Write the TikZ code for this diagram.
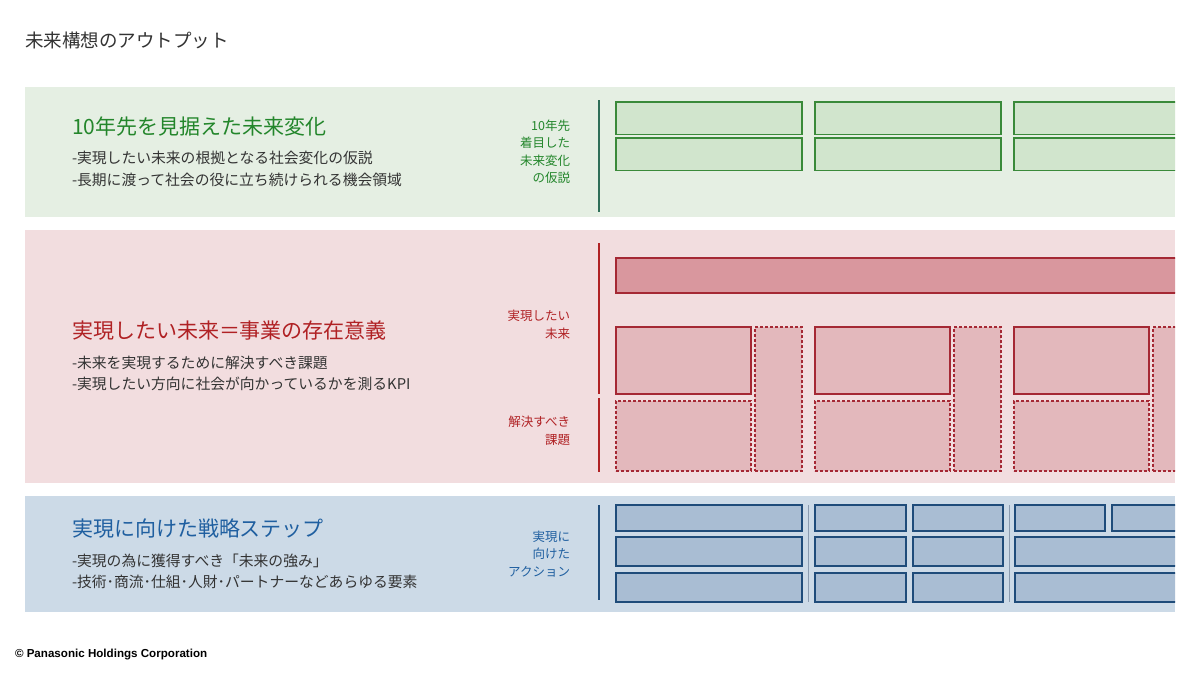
\documentclass[tikz,border=0pt]{standalone}
\usepackage{fontspec}
\setmainfont{Noto Sans CJK JP}
\newfontfamily\latinfont{Liberation Sans}
\usetikzlibrary{positioning}
\definecolor{ftText}{HTML}{333333}
\definecolor{ftGreen}{HTML}{23862B}
\definecolor{ftGreenP}{HTML}{E5EFE3}
\definecolor{ftGreenB}{HTML}{D1E5CD}
\definecolor{ftGreenD}{HTML}{3A8A3A}
\definecolor{ftGreenV}{HTML}{2F6E58}
\definecolor{ftRed}{HTML}{B02124}
\definecolor{ftRedP}{HTML}{F2DDDF}
\definecolor{ftRedBar}{HTML}{D9979E}
\definecolor{ftRedB}{HTML}{E3B8BC}
\definecolor{ftRedD}{HTML}{A52834}
\definecolor{ftBlue}{HTML}{1F5FA0}
\definecolor{ftBlueP}{HTML}{CCDAE7}
\definecolor{ftBlueB}{HTML}{A9BDD3}
\definecolor{ftBlueD}{HTML}{1F4C7A}
\definecolor{ftSep}{HTML}{8A9BB0}

\begin{document}
\begin{tikzpicture}[
  x=1pt, y=-1pt,
  every node/.style={inner sep=0pt, outer sep=0pt},
  headline/.style={anchor=west, font=\fontsize{21}{25}\selectfont},
  bodyline/.style={anchor=west, text=ftText, font=\fontsize{14.8}{18}\selectfont},
  tag/.style={anchor=east, align=right, font=\fontsize{12.5}{17.5}\selectfont},
  gbox/.style={draw=ftGreenD, fill=ftGreenB, line width=1.3pt,
    minimum width=186pt, minimum height=32.5pt, anchor=north west},
  rbox/.style={draw=ftRedD, fill=ftRedB, line width=1.3pt,
    minimum width=135pt, minimum height=67pt, anchor=north west},
  rdash/.style={draw=ftRedD, fill=ftRedB, line width=1.3pt,
    dash pattern=on 3pt off 2pt, minimum width=135pt, minimum height=70pt},
  rkpi/.style={draw=ftRedD, fill=ftRedB, line width=1.3pt,
    dash pattern=on 3pt off 2pt, minimum width=47pt, minimum height=144pt},
  bstep/.style={draw=ftBlueD, fill=ftBlueB, line width=1.3pt,
    minimum height=29pt, anchor=north west}
]
 \useasboundingbox (0,0) rectangle (1200,675);
 \fill[white] (0,0) rectangle (1200,675);

 % page title and footer
 \node[anchor=west, text=ftText, font=\fontsize{18.5}{22}\selectfont] (title) at (25,40) {未来構想のアウトプット};
 \node[anchor=west, text=black, font=\latinfont\bfseries\fontsize{11.6}{13}\selectfont] (copy) at (15,655) {© Panasonic Holdings Corporation};

 % band backgrounds
 \fill[ftGreenP] (25,87) rectangle (1175,217);
 \fill[ftRedP] (25,230) rectangle (1175,483);
 \fill[ftBlueP] (25,496) rectangle (1175,612);

 % Band 1 -- future change
 \node[headline, text=ftGreen] (gh) at (72,127) {10年先を見据えた未来変化};
 \node[bodyline] (gl1) at (72,158) {-実現したい未来の根拠となる社会変化の仮説};
 \node[bodyline] (gl2) at (72,180) {-長期に渡って社会の役に立ち続けられる機会領域};
 \node[tag, text=ftGreen] (gt) at (570,152) {10年先\\着目した\\未来変化\\の仮説};
 \draw[ftGreenV, line width=1.3pt] (599,100) -- (599,212);

 % Band 2 -- future to realise
 \node[headline, text=ftRed] (rh) at (72,331) {実現したい未来＝事業の存在意義};
 \node[bodyline] (rl1) at (72,363) {-未来を実現するために解決すべき課題};
 \node[bodyline] (rl2) at (72,384) {-実現したい方向に社会が向かっているかを測るKPI};
 \node[tag, text=ftRed] (rt1) at (570,324.5) {実現したい\\未来};
 \node[tag, text=ftRed] (rt2) at (570,431) {解決すべき\\課題};
 \draw[ftRed, line width=1.3pt] (599,243) -- (599,394);
 \draw[ftRed, line width=1.3pt] (599,398) -- (599,472);

 % Band 3 -- strategy steps
 \node[headline, text=ftBlue] (bh) at (72,529) {実現に向けた戦略ステップ};
 \node[bodyline] (bl1) at (72,561) {-実現の為に獲得すべき「未来の強み」};
 \node[bodyline] (bl2) at (72,582) {-技術･商流･仕組･人財･パートナーなどあらゆる要素};
 \node[tag, text=ftBlue] (bt) at (570,554) {実現に\\向けた\\アクション};
 \draw[ftBlueD, line width=1.3pt] (599,505) -- (599,600);

 \begin{scope}
 \clip (25,80) rectangle (1175,620);

 % Band 1 boxes -- two rows
 \node[gbox] (g11) at (616,102) {};
 \node[gbox, right=13pt of g11] (g12) {};
 \node[gbox, right=13pt of g12] (g13) {};
 \node[gbox] (g21) at (616,138) {};
 \node[gbox, right=13pt of g21] (g22) {};
 \node[gbox, right=13pt of g22] (g23) {};

 % Band 2 boxes -- wide bar, then groups of vision / issue / KPI
 \node[rbox, fill=ftRedBar, minimum width=620pt, minimum height=35pt] (rbar) at (616,258) {};
 \node[rbox] (r1) at (616,327) {};
 \node[rdash, below=7pt of r1] (i1) {};
 \node[rkpi, right=4pt of r1.north east, anchor=north west] (k1) {};
 \node[rbox, right=13pt of k1.north east, anchor=north west] (r2) {};
 \node[rdash, below=7pt of r2] (i2) {};
 \node[rkpi, right=4pt of r2.north east, anchor=north west] (k2) {};
 \node[rbox, right=13pt of k2.north east, anchor=north west] (r3) {};
 \node[rdash, below=7pt of r3] (i3) {};
 \node[rkpi, right=4pt of r3.north east, anchor=north west] (k3) {};

 % Band 3 boxes -- three rows, three groups
 \node[bstep, minimum width=186pt, minimum height=26pt] (s11) at (616,505) {};
 \node[bstep, minimum width=186pt] (s21) at (616,537) {};
 \node[bstep, minimum width=186pt] (s31) at (616,573) {};
 \node[bstep, minimum width=91pt, minimum height=26pt] (s12) at (815,505) {};
 \node[bstep, minimum width=90pt, minimum height=26pt] (s13) at (913,505) {};
 \node[bstep, minimum width=91pt] (s22) at (815,537) {};
 \node[bstep, minimum width=90pt] (s23) at (913,537) {};
 \node[bstep, minimum width=91pt] (s32) at (815,573) {};
 \node[bstep, minimum width=90pt] (s33) at (913,573) {};
 \node[bstep, minimum width=90pt, minimum height=26pt] (s14) at (1015,505) {};
 \node[bstep, minimum width=90pt, minimum height=26pt] (s15) at (1112,505) {};
 \node[bstep, minimum width=200pt] (s24) at (1015,537) {};
 \node[bstep, minimum width=200pt] (s34) at (1015,573) {};
 \draw[ftSep, line width=0.8pt] (808,505) -- (808,602);
 \draw[ftSep, line width=0.8pt] (1009,505) -- (1009,602);
 \end{scope}
\end{tikzpicture}
\end{document}
